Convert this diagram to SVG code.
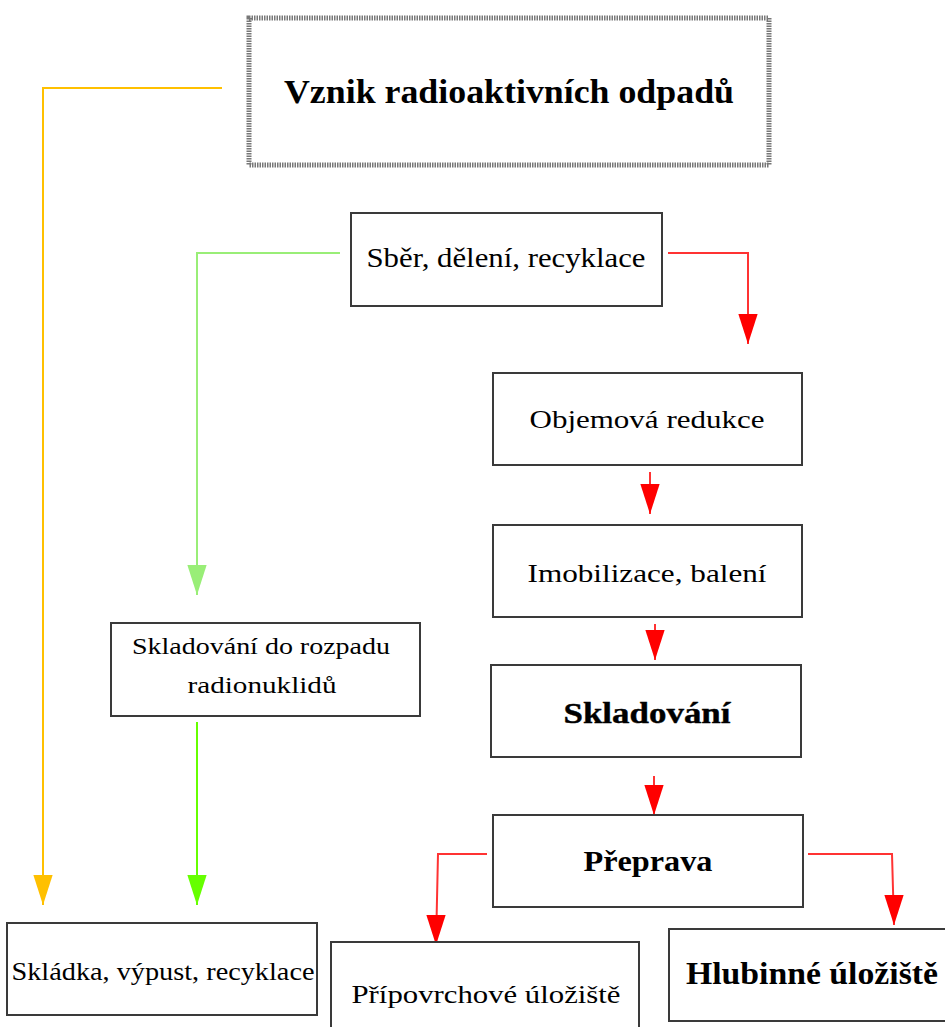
<svg xmlns="http://www.w3.org/2000/svg" width="945" height="1027" viewBox="0 0 945 1027">
<style>
.box{fill:#fff;stroke:#3a3a3a;stroke-width:2}
.t{font-family:"Liberation Serif","Times New Roman",serif;fill:#000;text-anchor:middle}
.b{font-weight:bold}
.ln{fill:none;stroke-width:2}
</style>
<defs>
<marker id="aR" markerUnits="userSpaceOnUse" markerWidth="20" markerHeight="30" refX="9" refY="28" viewBox="0 0 18 28"><path d="M0,0 L18,0 L9,28 Z" fill="#ff0000"/></marker>
<marker id="aY" markerUnits="userSpaceOnUse" markerWidth="20" markerHeight="30" refX="9" refY="28" viewBox="0 0 18 28"><path d="M0,0 L18,0 L9,28 Z" fill="#ffc000"/></marker>
<marker id="aG1" markerUnits="userSpaceOnUse" markerWidth="20" markerHeight="30" refX="9" refY="28" viewBox="0 0 18 28"><path d="M0,0 L18,0 L9,28 Z" fill="#99ee77"/></marker>
<marker id="aG2" markerUnits="userSpaceOnUse" markerWidth="20" markerHeight="30" refX="9" refY="28" viewBox="0 0 18 28"><path d="M0,0 L18,0 L9,28 Z" fill="#66ff00"/></marker>
</defs>
<rect width="945" height="1027" fill="#fff"/>
<g id="connectors">
<polyline class="ln" stroke="#ffc000" points="222,88 43,88 43,905" marker-end="url(#aY)"/>
<polyline class="ln" stroke="#99ee77" points="340,253 197,253 197,595" marker-end="url(#aG1)"/>
<polyline class="ln" stroke="#66ff00" points="197,722 197,905" marker-end="url(#aG2)"/>
<polyline class="ln" stroke="#ff3333" points="668,253 748,253 748,344" marker-end="url(#aR)"/>
<polyline class="ln" stroke="#ff3333" points="650,472 650,514" marker-end="url(#aR)"/>
<polyline class="ln" stroke="#ff3333" points="655,624 655,660" marker-end="url(#aR)"/>
<polyline class="ln" stroke="#ff3333" points="654,776 654,815" marker-end="url(#aR)"/>
<polyline class="ln" stroke="#ff3333" points="487,854 438,854 436,945" marker-end="url(#aR)"/>
<polyline class="ln" stroke="#ff3333" points="808,854 892,854 894,925" marker-end="url(#aR)"/>
</g>
<g id="vznik">
<rect x="249" y="18" width="520" height="147" fill="#fff" stroke="#777" stroke-width="5" stroke-dasharray="1.5 1"/>
<text class="t b" x="509" y="103" font-size="34" textLength="450" lengthAdjust="spacingAndGlyphs">Vznik radioaktivních odpadů</text>
</g>
<g id="sber">
<rect class="box" x="351" y="213" width="311" height="93"/>
<text class="t" x="506" y="267" font-size="27" textLength="279" lengthAdjust="spacingAndGlyphs">Sběr, dělení, recyklace</text>
</g>
<g id="objemova">
<rect class="box" x="493" y="373" width="309" height="92"/>
<text class="t" x="647" y="428" font-size="26" textLength="235" lengthAdjust="spacingAndGlyphs">Objemová redukce</text>
</g>
<g id="imobilizace">
<rect class="box" x="493" y="525" width="309" height="92"/>
<text class="t" x="647" y="582" font-size="26" textLength="239" lengthAdjust="spacingAndGlyphs">Imobilizace, balení</text>
</g>
<g id="skladovani">
<rect class="box" x="491" y="665" width="310" height="92"/>
<text class="t" x="647" y="723" font-size="29" font-weight="600" textLength="167" lengthAdjust="spacingAndGlyphs" style="paint-order:stroke" stroke="#000" stroke-width="0.4">Skladování</text>
</g>
<g id="preprava">
<rect class="box" x="493" y="815" width="310" height="92"/>
<text class="t b" x="648" y="871" font-size="30" textLength="129" lengthAdjust="spacingAndGlyphs">Přeprava</text>
</g>
<g id="rozpad">
<rect class="box" x="111" y="623" width="309" height="93"/>
<text class="t" x="261" y="654" font-size="24" textLength="258" lengthAdjust="spacingAndGlyphs">Skladování do rozpadu</text>
<text class="t" x="262" y="693" font-size="24" textLength="149" lengthAdjust="spacingAndGlyphs">radionuklidů</text>
</g>
<g id="skladka">
<rect class="box" x="7" y="923" width="310" height="92"/>
<text class="t" x="163" y="980" font-size="25" textLength="303" lengthAdjust="spacingAndGlyphs">Skládka, výpust, recyklace</text>
</g>
<g id="pripovrchove">
<rect class="box" x="331" y="942" width="308" height="95"/>
<text class="t" x="486" y="1003" font-size="26" textLength="269" lengthAdjust="spacingAndGlyphs">Přípovrchové úložiště</text>
</g>
<g id="hlubinne">
<rect class="box" x="669" y="929" width="290" height="92"/>
<text class="t b" x="812" y="984" font-size="31" textLength="252" lengthAdjust="spacingAndGlyphs">Hlubinné úložiště</text>
</g>
</svg>
